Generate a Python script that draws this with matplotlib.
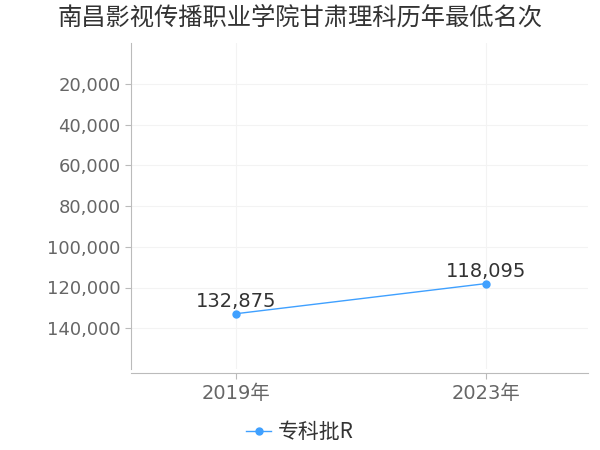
import matplotlib.pyplot as plt
from matplotlib.ticker import FuncFormatter

plt.rcParams['font.family'] = ['Noto Sans CJK SC', 'DejaVu Sans']

years = ['2019年', '2023年']
ranks = [132875, 118095]
series_name = '专科批R'
yticks = [20000, 40000, 60000, 80000, 100000, 120000, 140000]

fig = plt.figure(figsize=(6, 4.5), dpi=100)
ax = fig.add_axes([131 / 600, 1 - 369 / 450, 457 / 600, 326 / 450])

x = list(range(len(years)))
ax.plot(x, ranks, color='#3fa0ff', lw=1, marker='o', ms=5, label=series_name)
for xi, v in zip(x, ranks):
    ax.annotate('{:,}'.format(v), (xi, v), xytext=(0, 2), textcoords='offset points',
                ha='center', va='bottom', fontsize=14, color='#333333', family='DejaVu Sans')

ax.set_ylim(160000, 0)
ax.set_yticks(yticks)
ax.yaxis.set_major_formatter(FuncFormatter(lambda v, p: '{:,.0f}'.format(v)))
ax.set_xlim(-0.42, 1.41)
ax.set_xticks(x)
ax.set_xticklabels(years)

ax.grid(True, color='#f3f3f3', lw=0.8)
ax.set_axisbelow(True)
for s in ['top', 'right']:
    ax.spines[s].set_visible(False)
ax.spines['left'].set_color('#bbbbbb')
ax.spines['bottom'].set_color('#bbbbbb')
ax.spines['bottom'].set_position(('outward', 3))
ax.tick_params(axis='y', colors='#bbbbbb', labelcolor='#666666', labelsize=13, length=4)
ax.tick_params(axis='x', colors='#bbbbbb', labelcolor='#666666', labelsize=14, length=4)
for lab in ax.get_yticklabels():
    lab.set_family('DejaVu Sans')
for lab in ax.get_xticklabels():
    lab.set_family(['DejaVu Sans', 'Noto Sans CJK SC'])

fig.suptitle('南昌影视传播职业学院甘肃理科历年最低名次', y=0.99, fontsize=17.5, color='#333333')
fig.legend(loc='center', bbox_to_anchor=(0.5, 1 - 432 / 450), frameon=False, fontsize=15,
           labelcolor='#333333', handlelength=1.2, handletextpad=0.3)

fig.savefig('out.png')
